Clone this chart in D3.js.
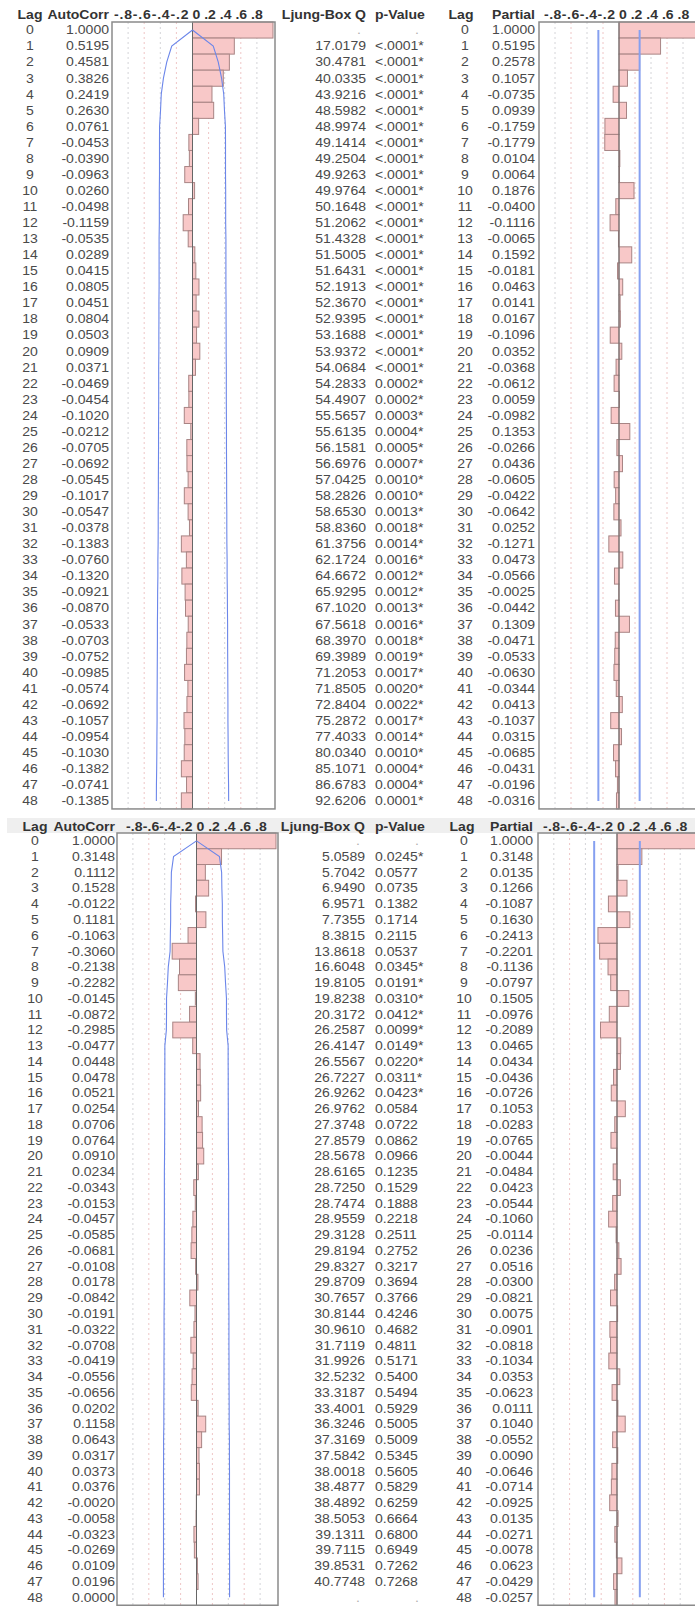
<!DOCTYPE html>
<html><head><meta charset="utf-8">
<script src="https://cdn.jsdelivr.net/npm/d3@7"></script>
<style>body{margin:0;background:#fff}svg{display:block}</style>
</head><body>
<script>
// ---------- DATA ----------
const lags = d3.range(0, 49);
const tickValues = [-0.8,-0.6,-0.4,-0.2,0,0.2,0.4,0.6,0.8];
const tickLabels = ["-.8","-.6","-.4","-.2","0",".2",".4",".6",".8"];

// Panel 1 (top)
const acf1 = [1.0000,0.5195,0.4581,0.3826,0.2419,0.2630,0.0761,-0.0453,-0.0390,-0.0963,0.0260,-0.0498,-0.1159,-0.0535,0.0289,0.0415,0.0805,0.0451,0.0804,0.0503,0.0909,0.0371,-0.0469,-0.0454,-0.1020,-0.0212,-0.0705,-0.0692,-0.0545,-0.1017,-0.0547,-0.0378,-0.1383,-0.0760,-0.1320,-0.0921,-0.0870,-0.0533,-0.0703,-0.0752,-0.0985,-0.0574,-0.0692,-0.1057,-0.0954,-0.1030,-0.1382,-0.0741,-0.1385];
const ljung1 = [null,"17.0179","30.4781","40.0335","43.9216","48.5982","48.9974","49.1414","49.2504","49.9263","49.9764","50.1648","51.2062","51.4328","51.5005","51.6431","52.1913","52.3670","52.9395","53.1688","53.9372","54.0684","54.2833","54.4907","55.5657","55.6135","56.1581","56.6976","57.0425","58.2826","58.6530","58.8360","61.3756","62.1724","64.6672","65.9295","67.1020","67.5618","68.3970","69.3989","71.2053","71.8505","72.8404","75.2872","77.4033","80.0340","85.1071","86.6783","92.6206"];
const pval1 = [null,"<.0001*","<.0001*","<.0001*","<.0001*","<.0001*","<.0001*","<.0001*","<.0001*","<.0001*","<.0001*","<.0001*","<.0001*","<.0001*","<.0001*","<.0001*","<.0001*","<.0001*","<.0001*","<.0001*","<.0001*","<.0001*","0.0002*","0.0002*","0.0003*","0.0004*","0.0005*","0.0007*","0.0010*","0.0010*","0.0013*","0.0018*","0.0014*","0.0016*","0.0012*","0.0012*","0.0013*","0.0016*","0.0018*","0.0019*","0.0017*","0.0020*","0.0022*","0.0017*","0.0014*","0.0010*","0.0004*","0.0004*","0.0001*"];
const pacf1 = [1.0000,0.5195,0.2578,0.1057,-0.0735,0.0939,-0.1759,-0.1779,0.0104,0.0064,0.1876,-0.0400,-0.1116,-0.0065,0.1592,-0.0181,0.0463,0.0141,0.0167,-0.1096,0.0352,-0.0368,-0.0612,0.0059,-0.0982,0.1353,-0.0266,0.0436,-0.0605,-0.0422,-0.0642,0.0252,-0.1271,0.0473,-0.0566,-0.0025,-0.0442,0.1309,-0.0471,-0.0533,-0.0630,-0.0344,0.0413,-0.1037,0.0315,-0.0685,-0.0431,-0.0196,-0.0316];
const acfLimit1 = [0,.258,.320,.361,.388,.397,.409,.410,.410,.410,.412,.412,.412,.415,.415,.415,.415,.417,.417,.418,.418,.420,.420,.420,.421,.422,.422,.423,.424,.424,.426,.426,.427,.430,.430,.433,.434,.436,.436,.437,.438,.439,.440,.440,.442,.443,.445,.448,.449];
const pacfLimit1 = 0.258;

// Panel 2 (bottom)
const acf2 = [1.0000,0.3148,0.1112,0.1528,-0.0122,0.1181,-0.1063,-0.3060,-0.2138,-0.2282,-0.0145,-0.0872,-0.2985,-0.0477,0.0448,0.0478,0.0521,0.0254,0.0706,0.0764,0.0910,0.0234,-0.0343,-0.0153,-0.0457,-0.0585,-0.0681,-0.0108,0.0178,-0.0842,-0.0191,-0.0322,-0.0708,-0.0419,-0.0556,-0.0656,0.0202,0.1158,0.0643,0.0317,0.0373,0.0376,-0.0020,-0.0058,-0.0323,-0.0269,0.0109,0.0196,0.0000];
const ljung2 = [null,"5.0589","5.7042","6.9490","6.9571","7.7355","8.3815","13.8618","16.6048","19.8105","19.8238","20.3172","26.2587","26.4147","26.5567","26.7227","26.9262","26.9762","27.3748","27.8579","28.5678","28.6165","28.7250","28.7474","28.9559","29.3128","29.8194","29.8327","29.8709","30.7657","30.8144","30.9610","31.7119","31.9926","32.5232","33.3187","33.4001","36.3246","37.3169","37.5842","38.0018","38.4877","38.4892","38.5053","39.1311","39.7115","39.8531","40.7748",null];
const pval2 = [null,"0.0245*","0.0577","0.0735","0.1382","0.1714","0.2115","0.0537","0.0345*","0.0191*","0.0310*","0.0412*","0.0099*","0.0149*","0.0220*","0.0311*","0.0423*","0.0584","0.0722","0.0862","0.0966","0.1235","0.1529","0.1888","0.2218","0.2511","0.2752","0.3217","0.3694","0.3766","0.4246","0.4682","0.4811","0.5171","0.5400","0.5494","0.5929","0.5005","0.5009","0.5345","0.5605","0.5829","0.6259","0.6664","0.6800","0.6949","0.7262","0.7268",null];
const pacf2 = [1.0000,0.3148,0.0135,0.1266,-0.1087,0.1630,-0.2413,-0.2201,-0.1136,-0.0797,0.1505,-0.0976,-0.2089,0.0465,0.0434,-0.0436,-0.0726,0.1053,-0.0283,-0.0765,-0.0044,-0.0484,0.0423,-0.0544,-0.1060,-0.0114,0.0236,0.0516,-0.0300,-0.0821,0.0075,-0.0901,-0.0818,-0.1034,0.0353,-0.0623,0.0111,0.1040,-0.0552,0.0090,-0.0646,-0.0714,-0.0925,0.0135,-0.0271,-0.0078,0.0623,-0.0429,-0.0257];
const acfLimit2 = [0,.289,.316,.319,.325,.325,.329,.332,.355,.365,.377,.377,.379,.398,.398,.399,.399,.400,.400,.401,.402,.404,.404,.404,.404,.405,.405,.406,.406,.406,.408,.408,.408,.409,.409,.410,.411,.411,.414,.414,.415,.415,.415,.415,.415,.415,.416,.416,.416];
const pacfLimit2 = 0.289;

// ---------- LAYOUT ----------
const W = 695, H = 1607, SX = 1.17;
const FONT = "'Liberation Sans', Arial, sans-serif";
const layout1 = {top:22, rowH:16.06, headerY:18.5, band:false,
  lagX:30, acfRight:109, acfR:[112,273], acfTickStart:114, qRight:366, pLeft:375,
  plagHead:461, plagX:465, pacRight:535, pacR:[539,699], pacTickStart:544};
const layout2 = {top:833, rowH:15.76, headerY:830.5, band:true,
  lagX:35, acfRight:115, acfR:[117,276], acfTickStart:126, qRight:365, pLeft:375,
  plagHead:462, plagX:464, pacRight:533, pacR:[538,696], pacTickStart:543};

const svg = d3.select("body").append("svg").attr("width", W).attr("height", H)
  .style("font-family", FONT);

function txt(g, x, y, s, anchor, bold, fill) {
  return g.append("text")
    .attr("transform", `translate(${x},${y}) scale(${SX},1)`)
    .attr("text-anchor", anchor)
    .attr("font-size", 12)
    .attr("font-weight", bold ? "bold" : "normal")
    .attr("fill", fill || (bold ? "#333" : "#4a4a4a"))
    .text(s);
}

function plot(g, L, xs, vals, yb, limits, isCurve) {
  const top = L.top, bottom = L.top + lags.length * L.rowH;
  const x0 = xs(-1), x1 = xs(1);
  g.append("rect").attr("x", x0).attr("y", top).attr("width", x1 - x0 + 2).attr("height", bottom - top)
    .attr("fill", "#fff");
  g.selectAll(null).data(tickValues.filter(v => v !== 0)).join("line")
    .attr("x1", d => xs(d)).attr("x2", d => xs(d)).attr("y1", top).attr("y2", bottom)
    .attr("stroke", d => (Math.abs(d) === 0.2 || Math.abs(d) === 0.6) ? "#efc6c6" : "#d4d4d8")
    .attr("stroke-width", 1).attr("stroke-dasharray", "2,3");
  g.selectAll(null).data(lags).join("rect")
    .attr("x", d => xs(Math.min(0, vals[d])))
    .attr("width", d => Math.abs(xs(vals[d]) - xs(0)))
    .attr("y", d => yb(d)).attr("height", yb.bandwidth())
    .attr("fill", "#f8c8c8").attr("stroke", "#a88484").attr("stroke-width", 1);
  g.append("line").attr("x1", xs(0)).attr("x2", xs(0)).attr("y1", top).attr("y2", bottom)
    .attr("stroke", "#666").attr("stroke-width", 1);
  const yc = d => yb(d) + yb.bandwidth() / 2;
  if (isCurve) {
    [1, -1].forEach(sgn => {
      g.append("path").datum(lags)
        .attr("d", d3.line().x(d => xs(sgn * limits[d])).y(d => yc(d)))
        .attr("fill", "none").attr("stroke", "#6b86ea").attr("stroke-width", 1.1);
    });
  } else {
    [limits, -limits].forEach(v => {
      g.append("line").attr("x1", xs(v)).attr("x2", xs(v)).attr("y1", yc(0)).attr("y2", yc(48))
        .attr("stroke", "#86a0f0").attr("stroke-width", 2);
    });
  }
  g.append("rect").attr("x", x0).attr("y", top).attr("width", x1 - x0 + 2).attr("height", bottom - top)
    .attr("fill", "none").attr("stroke", "#8a8a8a").attr("stroke-width", 1.5);
}

function tickHeader(g, xs, y, start) {
  // negative labels stretched from start to just left of zero
  const neg = tickLabels.slice(0, 4).join("");
  const end = xs(0) - 4;
  txt(g, start, y, neg, "start", true)
    .attr("textLength", (end - start) / SX).attr("lengthAdjust", "spacing");
  // zero and positive labels from the zero position
  txt(g, xs(0), y, tickLabels.slice(4).join(" "), "start", true);
}

function panel(L, acf, ljung, pval, pacf, acfLimit, pacfLimit) {
  const g = svg.append("g");
  const yb = d3.scaleBand().domain(lags).range([L.top, L.top + lags.length * L.rowH]).padding(0);
  const xa = d3.scaleLinear().domain([-1, 1]).range(L.acfR);
  const xp = d3.scaleLinear().domain([-1, 1]).range(L.pacR);
  const base = d => yb(d) + yb.bandwidth() / 2 + 4.3;

  if (L.band) {
    g.append("rect").attr("x", 7).attr("y", L.top - 15).attr("width", W - 7).attr("height", 15)
      .attr("fill", "#efefef");
  }
  txt(g, L.lagX, L.headerY, "Lag", "middle", true);
  txt(g, L.acfRight, L.headerY, "AutoCorr", "end", true);
  tickHeader(g, xa, L.headerY, L.acfTickStart);
  txt(g, L.qRight, L.headerY, "Ljung-Box Q", "end", true);
  txt(g, L.pLeft, L.headerY, "p-Value", "start", true);
  txt(g, L.plagHead, L.headerY, "Lag", "middle", true);
  txt(g, L.pacRight, L.headerY, "Partial", "end", true);
  tickHeader(g, xp, L.headerY, L.pacTickStart);

  plot(g, L, xa, acf, yb, acfLimit, true);
  plot(g, L, xp, pacf, yb, pacfLimit, false);

  lags.forEach(i => {
    const y = base(i);
    txt(g, L.lagX, y, String(i), "middle", false);
    txt(g, L.acfRight, y, acf[i].toFixed(4), "end", false);
    if (ljung[i] == null) {
      txt(g, L.qRight - 5, y, ".", "end", false, "#b0b0b0");
      txt(g, L.pLeft + 42, y, ".", "middle", false, "#b0b0b0");
    } else {
      txt(g, L.qRight, y, ljung[i], "end", false);
      txt(g, L.pLeft, y, pval[i], "start", false);
    }
    txt(g, L.plagX, y, String(i), "middle", false);
    txt(g, L.pacRight, y, pacf[i].toFixed(4), "end", false);
  });
}

panel(layout1, acf1, ljung1, pval1, pacf1, acfLimit1, pacfLimit1);
panel(layout2, acf2, ljung2, pval2, pacf2, acfLimit2, pacfLimit2);
</script>
</body></html>
